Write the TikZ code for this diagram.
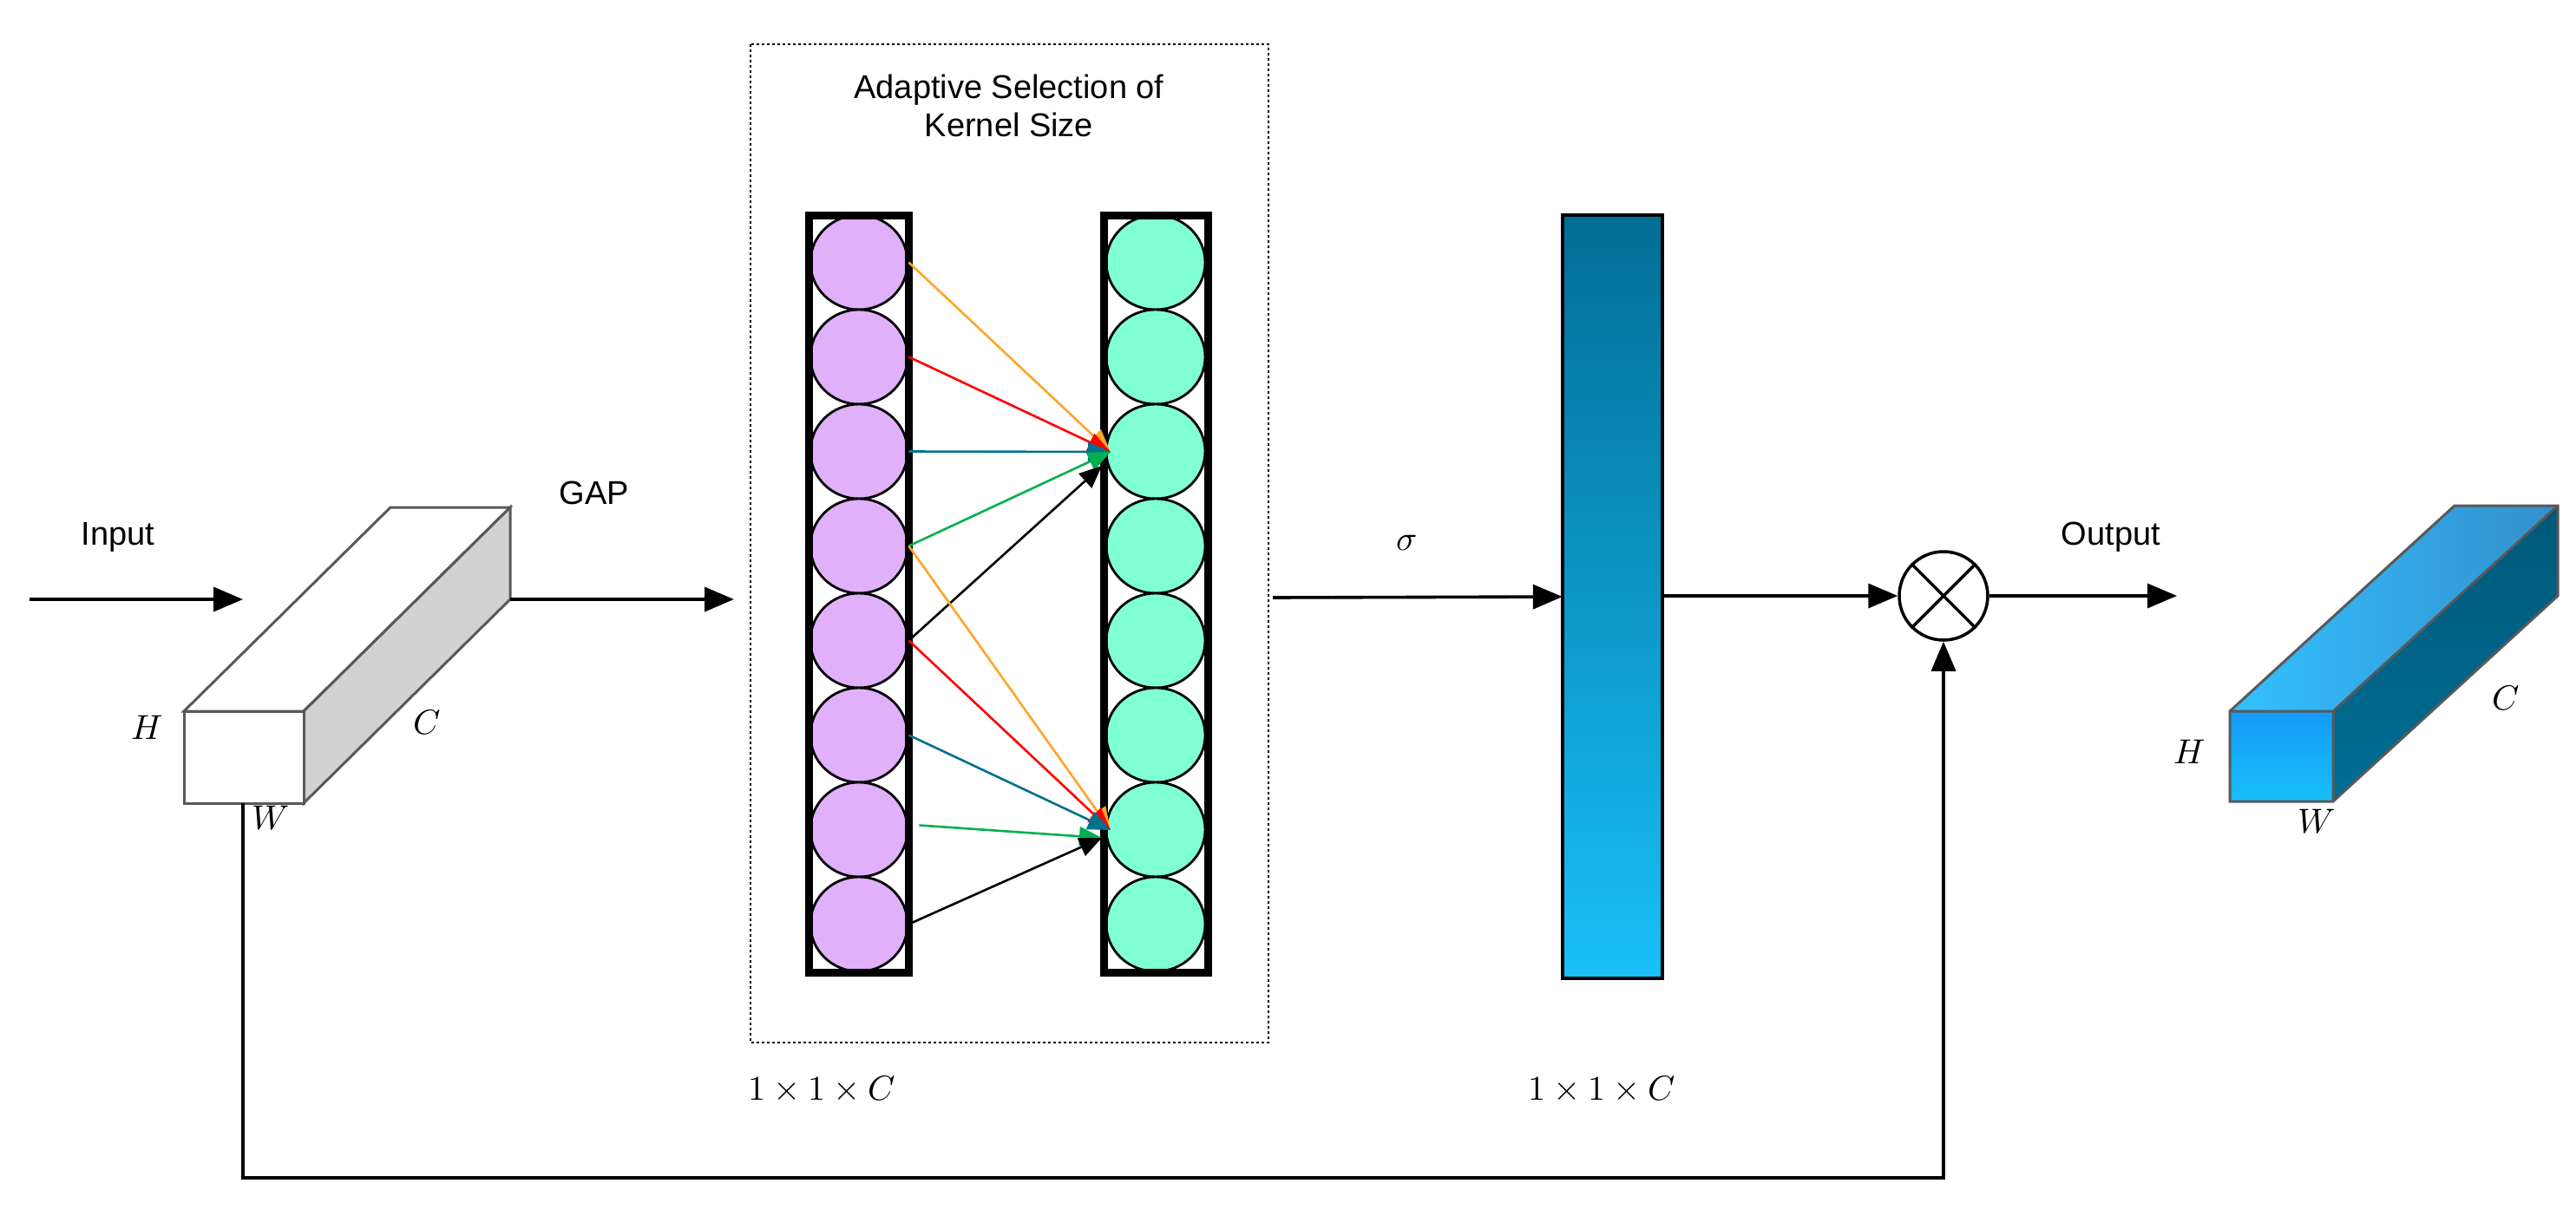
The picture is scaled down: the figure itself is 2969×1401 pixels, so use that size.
\documentclass[tikz,border=0pt]{standalone}
\usepackage{fontspec}
\usepackage{unicode-math}
\setmainfont{Liberation Sans}
\setmathfont{Latin Modern Math}
\usetikzlibrary{arrows.meta,calc,shapes.geometric}
\definecolor{lav}{RGB}{224,176,250}
\definecolor{mint}{RGB}{128,255,212}
\definecolor{teal1}{RGB}{0,112,140}
\definecolor{grn1}{RGB}{0,176,80}
\definecolor{org1}{RGB}{255,165,40}
\definecolor{bartop}{RGB}{0,110,150}
\definecolor{barbot}{RGB}{25,192,248}
\begin{document}
\begin{tikzpicture}[x=1pt,y=-1pt,
  conn/.style={line width=3.6pt,-{Triangle[length=34,width=28]}},
  small/.style={line width=2.6pt,-{Triangle[length=26,width=22]}},
  lbl/.style={font=\fontsize{38}{44}\selectfont},
  mth/.style={font=\fontsize{40}{44}\selectfont}]
\useasboundingbox (0,0) rectangle (2969,1401);
% input box
\coordinate (iA) at (212,820); \coordinate (iB) at (350,820);
\coordinate (iC) at (350,926); \coordinate (iD) at (212,926);
\def\dx{238}\def\dy{-235}
\draw[line width=3pt,gray!70!black,fill=white] (iA) -- ++(\dx,\dy) -- ($(iB)+(\dx,\dy)$) -- (iB) -- cycle;
\draw[line width=3pt,gray!70!black,fill=gray!35] (iB) -- ($(iB)+(\dx,\dy)$) -- ($(iC)+(\dx,\dy)$) -- (iC) -- cycle;
\draw[line width=3pt,gray!70!black,fill=white] (iA) -- (iB) -- (iC) -- (iD) -- cycle;
\coordinate (iout) at ($(iC)+(\dx,\dy)$);
\node[lbl] (tin) at (136,619) {Input};
\node[mth] (tH) at (170,839) {$H$};
\node[mth] (tC) at (492,833) {$C$};
\node[mth] (tW) at (312,943) {$W$};
\coordinate (s0) at (34,691); \coordinate (s1) at (280,691);
\draw[conn] (s0) -- (s1);
% dashed box
\draw[dashed,line width=1.4pt] (865,51) rectangle (1462,1202);
\node[lbl,align=center] (title) at (1163,122) {Adaptive Selection of\\Kernel Size};
\coordinate (g1) at (846,691);
\draw[conn] (iout) -- (g1);
\node[lbl] (gap) at (685,568) {GAP};
% columns
\foreach \i in {1,...,8}{
  \node[ellipse,draw,line width=2.8pt,fill=lav,minimum width=112,minimum height=109,inner sep=0] (L\i) at (990,{248+109*(\i-0.5)}) {};
  \node[ellipse,draw,line width=2.8pt,fill=mint,minimum width=114,minimum height=109,inner sep=0] (R\i) at (1332,{248+109*(\i-0.5)}) {};
}
\draw[line width=9pt] (932,248) rectangle (1047,1121);
\draw[line width=9pt] (1272,248) rectangle (1392,1121);
\coordinate (t3) at (1280,521); \coordinate (t3b) at (1270,537);
\coordinate (t7) at (1280,957); \coordinate (t7b) at (1270,966);
\draw[small,org1] (L1.east) -- (t3);
\draw[small,red] (L2.east) -- (t3);
\draw[small,teal1] (L3.east) -- (t3);
\draw[small,grn1] (L4.east) -- (t3);
\draw[small,black] (L5.east) -- (t3b);
\draw[small,org1] (L4.east) -- (t7);
\draw[small,red] (L5.east) -- (t7);
\draw[small,teal1] (L6.east) -- (t7);
\draw[small,grn1] ($(L7.east)+(12,-5)$) -- (t7b);
\draw[small,black] (L8.east) -- (t7b);
\node[mth] (d1) at (947,1255) {$1\times1\times C$};
% sigma and bar
\coordinate (sg0) at (1467,689);
\shade[top color=bartop,bottom color=barbot] (1801,248) rectangle (1916,1128);
\draw[line width=3.5pt] (1801,248) rectangle (1916,1128);
\node[inner sep=0,minimum width=115,minimum height=880] (bar) at (1858.5,688) {};
\draw[conn] (sg0) -- (bar.west);
\node[mth] (sig) at (1621,626) {$\sigma$};
\node[mth] (d2) at (1846,1255) {$1\times1\times C$};
% multiply
\node[circle,draw,line width=3.5pt,minimum size=102,inner sep=0,fill=white] (mul) at (2240,687) {};
\draw[line width=3.5pt] (mul.north west) -- (mul.south east) (mul.north east) -- (mul.south west);
\draw[conn] (bar.east |- mul) -- (mul.west);
\coordinate (k1) at (280,926); \coordinate (k2) at (280,1358); \coordinate (k3) at (2240,1358);
\draw[conn] (k1) -- (k2) -- (k3) -- (mul.south);
% output box
\coordinate (oA) at (2570,820); \coordinate (oB) at (2689,820);
\coordinate (oC) at (2689,924); \coordinate (oD) at (2570,924);
\def\ex{259}\def\ey{-237}
\coordinate (o1) at (2509,687);
\draw[conn] (mul.east) -- (o1);
\node[lbl] (tout) at (2433,619) {Output};
\shade[left color=cyan!70!blue!80,right color=blue!40!cyan!60!gray] (oA) -- ++(\ex,\ey) -- ($(oB)+(\ex,\ey)$) -- (oB) -- cycle;
\shade[top color=bartop!80!black,bottom color=bartop] (oB) -- ($(oB)+(\ex,\ey)$) -- ($(oC)+(\ex,\ey)$) -- (oC) -- cycle;
\shade[top color=barbot!80!blue,bottom color=barbot] (oA) rectangle (oC);
\draw[line width=3pt,gray!70!black] (oA) -- ++(\ex,\ey) -- ($(oB)+(\ex,\ey)$) -- ($(oC)+(\ex,\ey)$) -- (oC) -- (oD) -- cycle (oA) -- (oB) -- (oC) (oB) -- ($(oB)+(\ex,\ey)$);
\node[mth] (oH) at (2524,867) {$H$};
\node[mth] (oCl) at (2888,805) {$C$};
\node[mth] (oW) at (2670,947) {$W$};
\end{tikzpicture}
\end{document}
